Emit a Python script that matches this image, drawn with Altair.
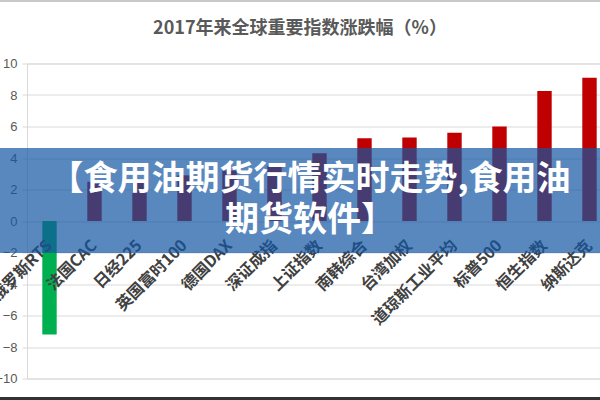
import altair as alt
import pandas as pd

categories = ["俄罗斯RTS", "法国CAC", "日经225", "英国富时100", "德国DAX", "深证成指",
              "上证指数", "南韩综合", "台湾加权", "道琼斯工业平均", "标普500", "恒生指数", "纳斯达克"]
values = [-7.2, 2.5, 2.6, 2.9, 3.2, 3.5, 4.3, 5.25, 5.3, 5.6, 6.0, 8.25, 9.1]
y_ticks = [-10, -8, -6, -4, -2, 0, 2, 4, 6, 8, 10]
title_text = "2017年来全球重要指数涨跌幅（%）"
banner_lines = ["【食用油期货行情实时走势,食用油", "期货软件】"]

df = pd.DataFrame({"category": categories, "value": values})

x_enc = alt.X("category:N", sort=categories,
              scale=alt.Scale(range=[0, 585], paddingInner=0.68, paddingOuter=0.34),
              axis=None)

y_scale = alt.Scale(domain=[-10, 10], nice=False)
y_axis = alt.Axis(values=y_ticks, title=None, format="d", labelFont="Liberation Sans",
                  labelFontSize=13, labelColor="#595959", labelPadding=5,
                  labelOverlap=False,
                  tickSize=5, tickColor="#d9d9d9", domainColor="#d9d9d9",
                  gridColor="#d9d9d9", gridWidth=1)

bars = alt.Chart(df).mark_bar().encode(
    x=x_enc,
    y=alt.Y("value:Q", scale=y_scale, axis=y_axis, title=None),
    color=alt.condition("datum.value < 0", alt.value("#00B050"), alt.value("#C00000")),
)

labels = alt.Chart(df).mark_text(
    angle=315, align="right", baseline="middle", font="Noto Sans CJK SC",
    fontSize=16, fontWeight="bold", color="#404040"
).encode(x=x_enc, y=alt.YDatum(-1.4, type="quantitative", scale=y_scale, axis=y_axis, title=None),
         text="category:N")

one = pd.DataFrame({"k": [0]})

title = alt.Chart(one).mark_text(
    text=title_text, font="Noto Sans CJK SC", fontSize=18, fontWeight="bold",
    color="#595959", align="center", baseline="middle"
).encode(x=alt.value(273), y=alt.value(-34.5))

banner = alt.Chart(one).mark_rect(color="#1256A3", opacity=0.7).encode(
    x=alt.value(-27), x2=alt.value(573), y=alt.value(84.5), y2=alt.value(189.5)
)

banner_text = alt.Chart(one).mark_text(
    text="\n".join(banner_lines), lineBreak="\n", lineHeight=41,
    font="Noto Sans CJK SC", fontSize=34, fontWeight="bold", color="white",
    align="center", baseline="middle"
).encode(x=alt.value(283), y=alt.value(116.5))

bottom_line = alt.Chart(one).mark_rule(color="#333333", strokeWidth=3).encode(
    x=alt.value(-27), x2=alt.value(573), y=alt.value(335)
)
top_line = alt.Chart(one).mark_rule(color="#c8c8c8", strokeWidth=2).encode(
    x=alt.value(-27), x2=alt.value(573), y=alt.value(-62.5)
)

chart = alt.layer(bars, labels, title, banner, banner_text, bottom_line, top_line).properties(
    width=573, height=315,
    autosize=alt.AutoSizeParams(type="none"),
    padding={"left": 27, "top": 63.5, "right": 0, "bottom": 21.5},
).configure_view(stroke=None).configure(background="white")

chart.save("out.html", embed_options={"renderer": "svg", "actions": False})
